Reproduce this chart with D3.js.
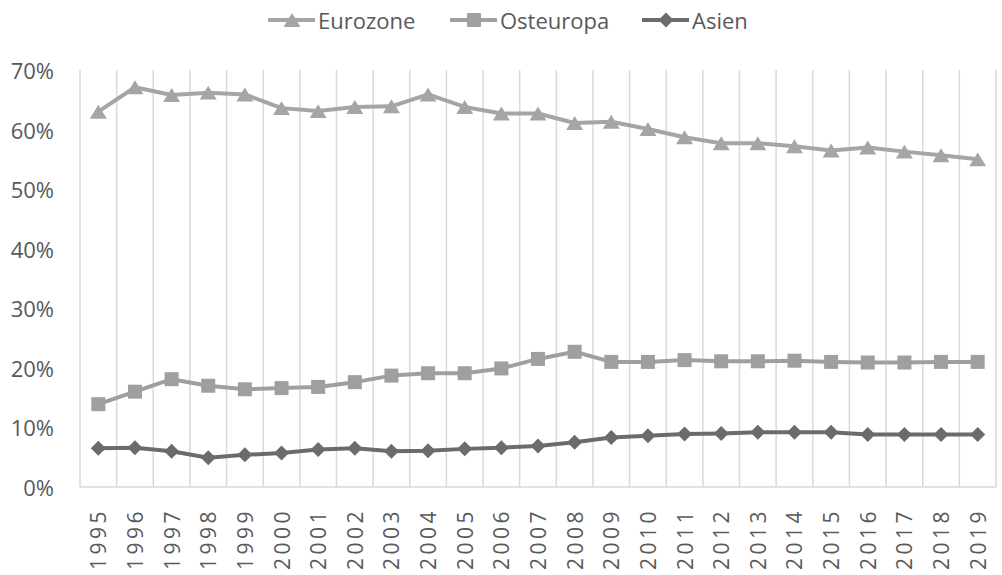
<!DOCTYPE html>
<html>
<head>
<meta charset="utf-8">
<script src="https://cdn.jsdelivr.net/npm/d3@7"></script>
<style>
  html, body { margin: 0; padding: 0; background: #fff; }
  svg { display: block; }
  text { font-family: "Open Sans", sans-serif; fill: #595959; }
</style>
</head>
<body>
<svg id="chart" width="1002" height="575"></svg>
<script>
// Shares by region, 1995–2019
const years = ["1995","1996","1997","1998","1999","2000","2001","2002","2003","2004","2005","2006","2007","2008","2009","2010","2011","2012","2013","2014","2015","2016","2017","2018","2019"];
const eurozone = [63.0,67.1,65.8,66.2,65.9,63.6,63.1,63.8,63.9,65.9,63.8,62.7,62.7,61.1,61.3,60.1,58.7,57.7,57.7,57.2,56.5,57.0,56.3,55.7,55.0];
const osteuropa = [13.9,16.0,18.1,17.0,16.4,16.6,16.8,17.6,18.7,19.1,19.1,19.9,21.5,22.7,21.0,21.0,21.3,21.1,21.1,21.2,21.0,20.9,20.9,21.0,21.0];
const asien = [6.5,6.6,6.0,4.9,5.4,5.7,6.3,6.5,6.0,6.1,6.4,6.6,6.9,7.5,8.3,8.6,8.9,9.0,9.2,9.2,9.2,8.8,8.8,8.8,8.8];
const yTicks = [0,10,20,30,40,50,60,70];

const seriesNames = ["Eurozone","Osteuropa","Asien"];
const seriesValues = [eurozone, osteuropa, asien];
const colors = ["#a5a5a5","#9f9f9f","#6b6b6b"];

const diamond = {
  draw(ctx, size) {
    const r = Math.sqrt(size) / 2;
    ctx.moveTo(0, -r); ctx.lineTo(r, 0); ctx.lineTo(0, r); ctx.lineTo(-r, 0); ctx.closePath();
  }
};
const triangle = {
  draw(ctx, size) {
    const s = Math.sqrt(size);
    const h = s * 0.82;
    ctx.moveTo(0, -h / 2); ctx.lineTo(s / 2, h / 2); ctx.lineTo(-s / 2, h / 2); ctx.closePath();
  }
};
const markerTypes = [triangle, d3.symbolSquare, diamond];
const markerSizes = [17 * 17, 14 * 14, 15 * 15];

const svg = d3.select("#chart");
const plotLeft = 80, plotRight = 996, plotTop = 70, plotBottom = 487;

const x = d3.scaleBand().domain(years).range([plotLeft, plotRight]).padding(0);
const y = d3.scaleLinear().domain([0, 70]).range([plotBottom, plotTop]);

// vertical gridlines at category boundaries
const bounds = years.map(d => x(d)).concat([x(years[years.length - 1]) + x.bandwidth()]);
svg.append("g").selectAll("line").data(bounds).join("line")
  .attr("x1", d => d).attr("x2", d => d)
  .attr("y1", plotTop).attr("y2", plotBottom)
  .attr("stroke", "#d9d9d9").attr("stroke-width", 1.5);

// category axis line
svg.append("line")
  .attr("x1", plotLeft).attr("x2", plotRight).attr("y1", plotBottom).attr("y2", plotBottom)
  .attr("stroke", "#d9d9d9").attr("stroke-width", 1.5);

// value axis labels
svg.append("g").selectAll("text").data(yTicks).join("text")
  .attr("x", 54).attr("y", d => y(d))
  .attr("text-anchor", "end").attr("dominant-baseline", "central")
  .style("font-size", "22px")
  .text(d => d + "%");

// category labels, rotated
svg.append("g").selectAll("text").data(years).join("text")
  .attr("transform", d => `translate(${x(d) + x.bandwidth() / 2},${plotBottom + 21}) rotate(-90)`)
  .attr("text-anchor", "end").attr("dominant-baseline", "central")
  .style("font-size", "21px").style("letter-spacing", "3.5px")
  .text(d => d);

// series lines and markers
const line = d3.line().x((d, i) => x(years[i]) + x.bandwidth() / 2).y(d => y(d));
seriesValues.forEach((vals, k) => {
  const g = svg.append("g");
  g.append("path").datum(vals)
    .attr("d", line).attr("fill", "none")
    .attr("stroke", colors[k]).attr("stroke-width", 4)
    .attr("stroke-linejoin", "round");
  g.selectAll("path.m").data(vals).join("path").attr("class", "m")
    .attr("transform", (d, i) => `translate(${x(years[i]) + x.bandwidth() / 2},${y(d)})`)
    .attr("d", d3.symbol().type(markerTypes[k]).size(markerSizes[k])())
    .attr("fill", colors[k]);
});

// legend
const legendX = [268, 450, 642];
const legend = svg.append("g");
seriesNames.forEach((name, k) => {
  const lx = legendX[k], ly = 20;
  legend.append("line").attr("x1", lx).attr("x2", lx + 47).attr("y1", ly).attr("y2", ly)
    .attr("stroke", colors[k]).attr("stroke-width", 4);
  legend.append("path")
    .attr("transform", `translate(${lx + 24},${ly})`)
    .attr("d", d3.symbol().type(markerTypes[k]).size(markerSizes[k])())
    .attr("fill", colors[k]);
  legend.append("text").attr("x", lx + 50).attr("y", ly)
    .attr("dominant-baseline", "central").style("font-size", "22px")
    .text(name);
});
</script>
</body>
</html>
